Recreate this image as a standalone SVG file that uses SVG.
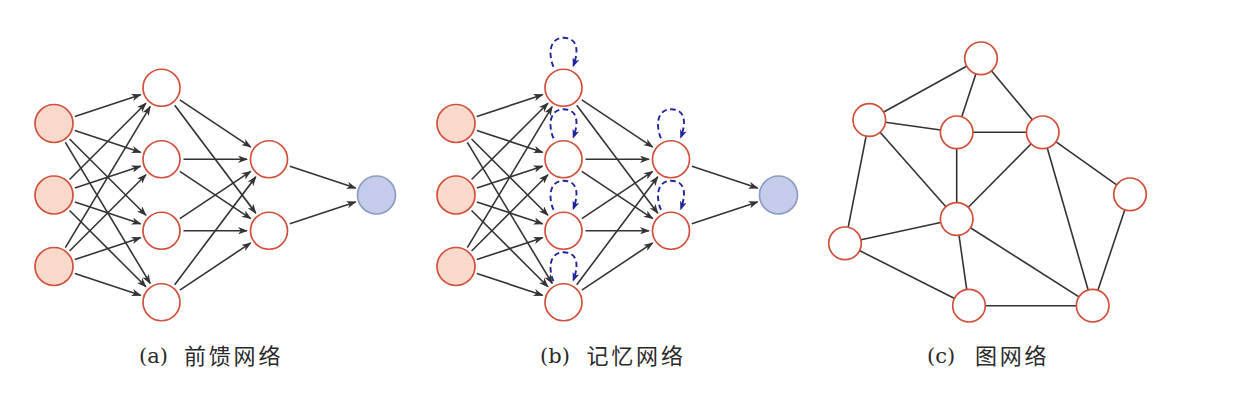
<svg xmlns="http://www.w3.org/2000/svg" width="1252" height="406" viewBox="0 0 1252 406">
<defs>
<marker id="arr" markerUnits="userSpaceOnUse" viewBox="0 0 10 7.4" markerWidth="10" markerHeight="7.4" refX="9" refY="3.7" orient="auto"><path d="M0,0 L10,3.7 L0,7.4 L2.8,3.7 z" fill="#333"/></marker>
<marker id="barr" markerUnits="userSpaceOnUse" viewBox="0 0 9 7" markerWidth="9" markerHeight="7" refX="7" refY="3.5" orient="auto"><path d="M0,0 L9,3.5 L0,7 L2.4,3.5 z" fill="#22229a"/></marker>
</defs>
<style>
.n{fill:#fff;stroke:#d0503b;stroke-width:1.7}
.in{fill:#f8d9cc;stroke:#d0503b;stroke-width:1.7}
.out{fill:#c4cce9;stroke:#8b9cc6;stroke-width:1.7}
.e line{stroke:#333;stroke-width:1.6;marker-end:url(#arr)}
.g line{stroke:#333;stroke-width:1.6}
.lp path{fill:none;stroke:#22229a;stroke-width:1.9;stroke-dasharray:5.5 3.5;marker-end:url(#barr)}
.cap{font-size:22px;fill:#2a2a2a}
.lat{font-family:"DejaVu Serif","Liberation Serif",serif;font-size:21px}
.cjk{font-family:"Noto Sans CJK SC",sans-serif;letter-spacing:2.8px}
</style>

<g id="panel-a">
<g class="e" id="edges-a">
<line x1="74.88" y1="116.56" x2="140.62" y2="94.69"/>
<line x1="74.88" y1="130.44" x2="140.62" y2="152.31"/>
<line x1="69.57" y1="139.04" x2="145.93" y2="215.21"/>
<line x1="65.34" y1="142.35" x2="150.16" y2="283.40"/>
<line x1="69.57" y1="179.46" x2="145.93" y2="103.29"/>
<line x1="74.88" y1="188.06" x2="140.62" y2="166.19"/>
<line x1="74.88" y1="201.94" x2="140.62" y2="223.81"/>
<line x1="69.57" y1="210.54" x2="145.93" y2="286.71"/>
<line x1="65.34" y1="247.65" x2="150.16" y2="106.60"/>
<line x1="69.57" y1="250.96" x2="145.93" y2="174.79"/>
<line x1="74.88" y1="259.56" x2="140.62" y2="237.69"/>
<line x1="74.88" y1="273.44" x2="140.62" y2="295.31"/>
<line x1="179.82" y1="99.93" x2="250.68" y2="147.07"/>
<line x1="174.72" y1="105.34" x2="255.78" y2="213.16"/>
<line x1="183.5" y1="159.25" x2="247" y2="159.25"/>
<line x1="179.82" y1="171.43" x2="250.68" y2="218.57"/>
<line x1="179.82" y1="218.57" x2="250.68" y2="171.43"/>
<line x1="183.5" y1="230.75" x2="247" y2="230.75"/>
<line x1="174.72" y1="284.66" x2="255.78" y2="176.84"/>
<line x1="179.82" y1="290.07" x2="250.68" y2="242.93"/>
<line x1="289.88" y1="166.19" x2="355.62" y2="188.06"/>
<line x1="289.88" y1="223.81" x2="355.62" y2="201.94"/>
</g>
<g id="a-in1"><circle class="in" cx="54" cy="123.5" r="19"/></g>
<g id="a-in2"><circle class="in" cx="54" cy="195" r="19"/></g>
<g id="a-in3"><circle class="in" cx="54" cy="266.5" r="19"/></g>
<g id="a-h1"><circle class="n" cx="161.5" cy="87.75" r="18.5"/></g>
<g id="a-h2"><circle class="n" cx="161.5" cy="159.25" r="18.5"/></g>
<g id="a-h3"><circle class="n" cx="161.5" cy="230.75" r="18.5"/></g>
<g id="a-h4"><circle class="n" cx="161.5" cy="302.25" r="18.5"/></g>
<g id="a-k1"><circle class="n" cx="269" cy="159.25" r="18.5"/></g>
<g id="a-k2"><circle class="n" cx="269" cy="230.75" r="18.5"/></g>
<g id="a-out"><circle class="out" cx="376.5" cy="195" r="19"/></g>
<text class="cap lat" x="139" y="363">(a)</text>
<text class="cap cjk" x="184" y="364">前馈网络</text>
</g>

<g id="panel-b" transform="translate(402,0)">
<g class="e" id="edges-b">
<line x1="74.88" y1="116.56" x2="140.62" y2="94.69"/>
<line x1="74.88" y1="130.44" x2="140.62" y2="152.31"/>
<line x1="69.57" y1="139.04" x2="145.93" y2="215.21"/>
<line x1="65.34" y1="142.35" x2="150.16" y2="283.40"/>
<line x1="69.57" y1="179.46" x2="145.93" y2="103.29"/>
<line x1="74.88" y1="188.06" x2="140.62" y2="166.19"/>
<line x1="74.88" y1="201.94" x2="140.62" y2="223.81"/>
<line x1="69.57" y1="210.54" x2="145.93" y2="286.71"/>
<line x1="65.34" y1="247.65" x2="150.16" y2="106.60"/>
<line x1="69.57" y1="250.96" x2="145.93" y2="174.79"/>
<line x1="74.88" y1="259.56" x2="140.62" y2="237.69"/>
<line x1="74.88" y1="273.44" x2="140.62" y2="295.31"/>
<line x1="179.82" y1="99.93" x2="250.68" y2="147.07"/>
<line x1="174.72" y1="105.34" x2="255.78" y2="213.16"/>
<line x1="183.5" y1="159.25" x2="247" y2="159.25"/>
<line x1="179.82" y1="171.43" x2="250.68" y2="218.57"/>
<line x1="179.82" y1="218.57" x2="250.68" y2="171.43"/>
<line x1="183.5" y1="230.75" x2="247" y2="230.75"/>
<line x1="174.72" y1="284.66" x2="255.78" y2="176.84"/>
<line x1="179.82" y1="290.07" x2="250.68" y2="242.93"/>
<line x1="289.88" y1="166.19" x2="355.62" y2="188.06"/>
<line x1="289.88" y1="223.81" x2="355.62" y2="201.94"/>
</g>
<g class="lp" id="loops-b">
<path transform="translate(161.5,87.75)" d="M-10,-21 C-15,-32 -15,-50 0,-50 C15,-50 15,-36 10,-22.5"/>
<path transform="translate(161.5,159.25)" d="M-10,-21 C-15,-32 -15,-50 0,-50 C15,-50 15,-36 10,-22.5"/>
<path transform="translate(161.5,230.75)" d="M-10,-21 C-15,-32 -15,-50 0,-50 C15,-50 15,-36 10,-22.5"/>
<path transform="translate(161.5,302.25)" d="M-10,-21 C-15,-32 -15,-50 0,-50 C15,-50 15,-36 10,-22.5"/>
<path transform="translate(269,159.25)" d="M-10,-21 C-15,-32 -15,-50 0,-50 C15,-50 15,-36 10,-22.5"/>
<path transform="translate(269,230.75)" d="M-10,-21 C-15,-32 -15,-50 0,-50 C15,-50 15,-36 10,-22.5"/>
</g>
<g id="b-in1"><circle class="in" cx="54" cy="123.5" r="19"/></g>
<g id="b-in2"><circle class="in" cx="54" cy="195" r="19"/></g>
<g id="b-in3"><circle class="in" cx="54" cy="266.5" r="19"/></g>
<g id="b-h1"><circle class="n" cx="161.5" cy="87.75" r="18.5"/></g>
<g id="b-h2"><circle class="n" cx="161.5" cy="159.25" r="18.5"/></g>
<g id="b-h3"><circle class="n" cx="161.5" cy="230.75" r="18.5"/></g>
<g id="b-h4"><circle class="n" cx="161.5" cy="302.25" r="18.5"/></g>
<g id="b-k1"><circle class="n" cx="269" cy="159.25" r="18.5"/></g>
<g id="b-k2"><circle class="n" cx="269" cy="230.75" r="18.5"/></g>
<g id="b-out"><circle class="out" cx="376.5" cy="195" r="19"/></g>
<text class="cap lat" x="138" y="363">(b)</text>
<text class="cap cjk" x="184.5" y="364">记忆网络</text>
</g>

<g id="panel-c">
<g class="g" id="edges-c">
<line x1="981" y1="58.3" x2="869.3" y2="120"/>
<line x1="981" y1="58.3" x2="956.7" y2="132.3"/>
<line x1="981" y1="58.3" x2="1042.7" y2="132.3"/>
<line x1="869.3" y1="120" x2="956.7" y2="132.3"/>
<line x1="869.3" y1="120" x2="845" y2="243.3"/>
<line x1="869.3" y1="120" x2="956.7" y2="219"/>
<line x1="956.7" y1="132.3" x2="1042.7" y2="132.3"/>
<line x1="956.7" y1="132.3" x2="956.7" y2="219"/>
<line x1="1042.7" y1="132.3" x2="956.7" y2="219"/>
<line x1="1042.7" y1="132.3" x2="1130" y2="194.3"/>
<line x1="1042.7" y1="132.3" x2="1092.7" y2="305.7"/>
<line x1="1130" y1="194.3" x2="1092.7" y2="305.7"/>
<line x1="956.7" y1="219" x2="845" y2="243.3"/>
<line x1="956.7" y1="219" x2="969" y2="305.7"/>
<line x1="956.7" y1="219" x2="1092.7" y2="305.7"/>
<line x1="845" y1="243.3" x2="969" y2="305.7"/>
<line x1="969" y1="305.7" x2="1092.7" y2="305.7"/>
</g>
<g id="c-a"><circle class="n" cx="981" cy="58.3" r="16.3"/></g>
<g id="c-b"><circle class="n" cx="869.3" cy="120" r="16.3"/></g>
<g id="c-c"><circle class="n" cx="956.7" cy="132.3" r="16.3"/></g>
<g id="c-d"><circle class="n" cx="1042.7" cy="132.3" r="16.3"/></g>
<g id="c-e"><circle class="n" cx="1130" cy="194.3" r="16.3"/></g>
<g id="c-f"><circle class="n" cx="956.7" cy="219" r="16.3"/></g>
<g id="c-g"><circle class="n" cx="845" cy="243.3" r="16.3"/></g>
<g id="c-h"><circle class="n" cx="969" cy="305.7" r="16.3"/></g>
<g id="c-i"><circle class="n" cx="1092.7" cy="305.7" r="16.3"/></g>
<text class="cap lat" x="927" y="363">(c)</text>
<text class="cap cjk" x="975" y="364">图网络</text>
</g>
</svg>
